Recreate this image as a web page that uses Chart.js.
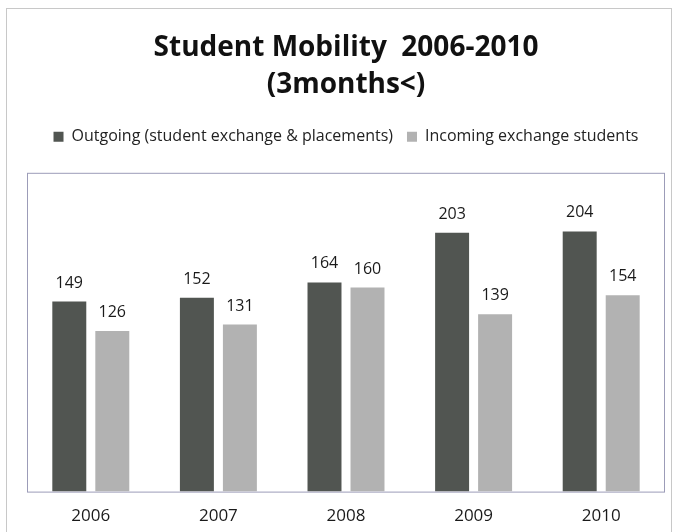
<!DOCTYPE html>
<html>
<head>
<meta charset="utf-8">
<title>Student Mobility 2006-2010</title>
<script src="https://cdn.jsdelivr.net/npm/chart.js@4/dist/chart.umd.min.js"></script>
<style>
    html, body { margin: 0; padding: 0; background: #ffffff; }
    #wrap { position: relative; width: 679px; height: 532px; }
    #frame { position: absolute; left: 6px; top: 8px; width: 666px; height: 530px; border: 1px solid #c8c8c8; box-sizing: border-box; }
    canvas { position: absolute; left: 0; top: 0; }
</style>
</head>
<body>
<div id="wrap">
    <div id="frame"></div>
    <canvas id="mobilityChart" width="679" height="532"></canvas>
</div>
<script>
const years = ['2006', '2007', '2008', '2009', '2010'];
const outgoing = [149, 152, 164, 203, 204];
const incoming = [126, 131, 160, 139, 154];
const seriesNames = ['Outgoing (student exchange & placements)', 'Incoming exchange students'];
const titleLines = ['Student Mobility  2006-2010', '(3months<)'];

// Draws the value above each bar
const valueLabels = {
    id: 'valueLabels',
    afterDatasetsDraw(chart) {
        const ctx = chart.ctx;
        ctx.save();
        ctx.font = '16px "Open Sans", sans-serif';
        ctx.fillStyle = '#1a1a1a';
        ctx.textAlign = 'center';
        ctx.textBaseline = 'alphabetic';
        chart.data.datasets.forEach((ds, i) => {
            chart.getDatasetMeta(i).data.forEach((bar, j) => {
                ctx.fillText(ds.data[j], bar.x, bar.y - 14);
            });
        });
        ctx.restore();
    }
};

// Box round the plot area
const plotBorder = {
    id: 'plotBorder',
    beforeDraw(chart) {
        const a = chart.chartArea;
        const ctx = chart.ctx;
        ctx.save();
        ctx.strokeStyle = '#9c9cb8';
        ctx.lineWidth = 1;
        ctx.strokeRect(a.left + 0.5, a.top + 0.5, a.right - a.left - 1, a.bottom - a.top);
        ctx.restore();
    }
};

// Extra room under the legend
const legendGap = {
    id: 'legendGap',
    beforeInit(chart) {
        const fit = chart.legend.fit;
        chart.legend.fit = function () {
            fit.bind(chart.legend)();
            this.height += 18;
        };
    }
};

const ctx = document.getElementById('mobilityChart').getContext('2d');
new Chart(ctx, {
    type: 'bar',
    data: {
        labels: years,
        datasets: [{
            label: seriesNames[0],
            data: outgoing,
            backgroundColor: '#515551'
        }, {
            label: seriesNames[1],
            data: incoming,
            backgroundColor: '#b2b2b2'
        }]
    },
    options: {
        responsive: false,
        animation: false,
        categoryPercentage: 0.674,
        barPercentage: 0.79,
        layout: {
            padding: { left: 27, right: 14, top: 0, bottom: 0 }
        },
        scales: {
            x: {
                grid: { display: false },
                border: { display: false },
                ticks: {
                    color: '#1a1a1a',
                    font: { family: '"Open Sans", sans-serif', size: 17 },
                    padding: 6
                }
            },
            y: {
                display: false,
                min: 0,
                max: 250
            }
        },
        plugins: {
            title: {
                display: true,
                text: titleLines,
                color: '#111111',
                font: { family: '"Open Sans", sans-serif', size: 28, weight: 'bold', lineHeight: 1.3 },
                padding: { top: 30, bottom: 12 }
            },
            legend: {
                display: true,
                labels: {
                    color: '#222222',
                    font: { family: '"Open Sans", sans-serif', size: 16 },
                    boxWidth: 10,
                    boxHeight: 10,
                    padding: 14
                }
            },
            tooltip: { enabled: false }
        }
    },
    plugins: [valueLabels, plotBorder, legendGap]
});
</script>
</body>
</html>
